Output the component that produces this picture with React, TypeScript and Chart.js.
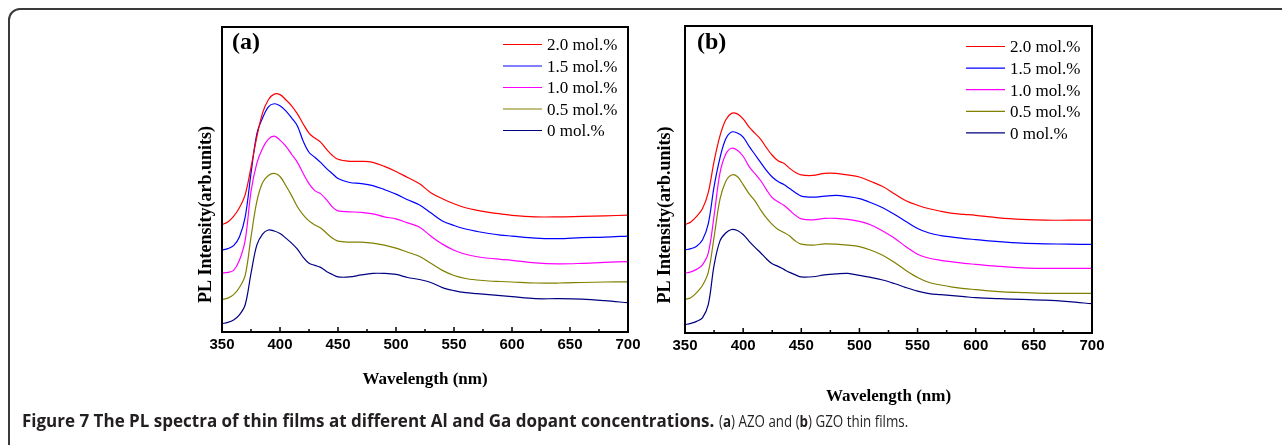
import { useEffect, useRef } from "react";
import { Chart, registerables } from "chart.js";

Chart.register(...registerables);

// Wavelength sample positions (nm)
const wavelengths = [
  350, 355, 360, 365, 370, 375, 380, 385, 390, 395, 400, 405, 410, 415, 420, 425, 430, 435, 440, 445, 450,
  460, 470, 480, 490, 500, 510, 520, 530, 540, 550, 560, 570, 580, 590, 600,
  620, 640, 660, 680, 700,
];

const xTickValues = [350, 400, 450, 500, 550, 600, 650, 700];
const minorTickValues = [375, 425, 475, 525, 575, 625, 675];

const seriesLabels = ["2.0 mol.%", "1.5 mol.%", "1.0 mol.%", "0.5 mol.%", "0 mol.%"];
const seriesColors = ["#ff0000", "#0000ff", "#ff00ff", "#808000", "#000080"];

// (a) AZO – offset PL intensities (arb. units)
const azo20 = [106.3, 109, 114.5, 123, 136, 163, 193, 217, 230, 235.5, 235, 230, 224, 216, 206, 197, 192, 188, 181, 175, 171,
  169, 169, 168, 164, 159, 153, 147, 138, 132, 127, 123, 120.5, 118.5, 117, 115.5, 114, 114, 114.5, 115, 115.7];
const azo15 = [81.3, 82.5, 85.5, 94, 114, 157, 196, 212, 223, 226, 224, 219, 212, 204, 189, 178, 173, 168, 162, 157, 152,
  148, 147, 145, 141, 136.5, 131, 126, 118, 110, 105.5, 102, 99.5, 97.5, 96, 95, 93, 92.5, 93.5, 94, 95];
const azo10 = [58.3, 59, 61, 71, 91, 139, 167, 182, 191, 194, 190, 184, 176, 168, 157, 147, 140, 137, 131, 124, 120,
  119, 118.5, 117, 114, 112, 108, 104, 95, 87, 81, 77, 74.5, 73, 72, 71, 68.5, 67.5, 68, 69, 69.7];
const azo05 = [32.3, 33.5, 37, 44, 56, 94, 129, 148, 155, 157, 154, 145, 135, 124, 116, 110, 106, 103, 98, 93, 90,
  89, 89, 88, 86, 83, 79, 75, 68, 61, 56, 53, 51.5, 50.5, 50, 49.5, 48.5, 48.5, 49, 49.5, 49.7];
const azo00 = [8.3, 9.5, 12, 17, 27, 58, 86, 97, 101, 100, 97.5, 93, 88, 82, 74, 68, 66, 64, 60, 57, 54.5,
  54.5, 56.5, 58, 58, 57, 54, 52, 49, 44, 41, 39, 38, 37, 36, 35, 33, 33, 32.5, 31, 29];

// (b) GZO – offset PL intensities (arb. units)
const gzo20 = [107.3, 110, 115.5, 123, 139, 170, 195, 211, 217.5, 217, 212, 204, 198, 192, 183.5, 176, 170.5, 168, 163, 159, 156.5,
  156, 158, 158, 156.5, 154.5, 150, 145, 138, 131, 126.5, 123, 120.5, 118.5, 117.5, 116.5, 114, 112.5, 111.7, 111.7, 111.7];
const gzo15 = [82.3, 83.5, 86, 92, 108, 145, 173, 192, 199, 198, 194, 185, 177, 169, 161, 154.5, 150, 147, 143, 139, 135.5,
  134.5, 135.5, 136.3, 135, 133, 129, 124, 117.5, 110.5, 103.5, 99, 96.5, 95, 93.5, 92.5, 90.5, 89, 88.3, 88, 87.7];
const gzo10 = [59.3, 60.5, 63, 67.5, 79, 116, 158, 177, 183, 181, 175, 165, 158, 151, 142, 134, 130, 126.5, 121.5, 116.5, 113,
  112, 113.5, 113.5, 112.5, 110.5, 107, 101, 94, 85.5, 78, 74, 72, 70.5, 69, 68, 66, 64.5, 64, 64, 64];
const gzo05 = [33.3, 35, 40, 47, 60, 95, 132, 150, 156.5, 155, 147, 138, 131, 122, 114, 107.5, 102.5, 99.5, 96, 91, 88,
  87, 88.3, 88, 87, 85.5, 82, 77, 70, 62, 55, 50, 47.5, 45.5, 44, 43, 41, 40, 39.3, 39.3, 39.3];
const gzo00 = [8.3, 9.5, 11.5, 15, 28, 67, 91, 99, 102.5, 101.5, 97.5, 91, 85, 79.5, 73.5, 68.5, 66, 63, 60, 57.5, 55.5,
  55.7, 57.5, 58.5, 59, 57, 55, 52.5, 49, 45, 41.5, 39, 38, 37, 36, 35, 34, 33.3, 32.5, 31, 29];

const xTitle = "Wavelength (nm)";
const yTitle = "PL Intensity(arb.units)";

const framePlugin = {
  id: "panelFrame",
  afterDatasetsDraw(chart: any) {
    const ctx = chart.ctx;
    const area = chart.chartArea;
    const xs = chart.scales.x;
    ctx.save();
    ctx.setLineDash([]);
    ctx.globalAlpha = 1;
    ctx.strokeStyle = "#000000";
    ctx.lineWidth = 2;
    ctx.beginPath();
    ctx.rect(area.left, area.top, area.right - area.left, area.bottom - area.top);
    ctx.stroke();
    ctx.lineWidth = 1.5;
    ctx.beginPath();
    for (const v of xTickValues) {
      const px = xs.getPixelForValue(v);
      ctx.moveTo(px, area.bottom);
      ctx.lineTo(px, area.bottom - 5);
    }
    for (const v of minorTickValues) {
      const px = xs.getPixelForValue(v);
      ctx.moveTo(px, area.bottom);
      ctx.lineTo(px, area.bottom - 3);
    }
    ctx.stroke();
    ctx.restore();
  },
};

const decorPlugin = {
  id: "panelDecor",
  afterDraw(chart: any, _args: any, opts: any) {
    const { ctx, chartArea } = chart;
    const { left, right, top, bottom } = chartArea;
    ctx.save();
    // panel label
    ctx.fillStyle = "#000";
    ctx.font = 'bold 24px "Liberation Serif"';
    ctx.textAlign = "left";
    ctx.textBaseline = "middle";
    ctx.fillText(opts.panel, left + opts.panelDx, top + opts.panelDy);
    // legend
    ctx.font = '17px "Liberation Serif"';
    chart.data.datasets.forEach((ds: any, i: number) => {
      const y = top + opts.legendDy + i * opts.legendGap;
      const x0 = right - opts.legendRight;
      ctx.strokeStyle = ds.borderColor;
      ctx.lineWidth = 1.2;
      ctx.beginPath();
      ctx.moveTo(x0, y - 1.5);
      ctx.lineTo(x0 + 39, y - 1.5);
      ctx.stroke();
      ctx.fillText(ds.label, x0 + 44, y);
    });
    // axis titles
    ctx.font = 'bold 17px "Liberation Serif"';
    ctx.textAlign = "center";
    ctx.fillText(xTitle, (left + right) / 2, bottom + opts.xTitleDy);
    ctx.font = 'bold 18px "Liberation Serif"';
    ctx.translate(left + opts.yTitleDx, bottom + opts.yTitleDy);
    ctx.rotate(-Math.PI / 2);
    ctx.fillText(yTitle, 0, 0);
    ctx.restore();
  },
};

function makeConfig(series: number[][], yMax: number, padding: any, decor: any) {
  return {
    type: "line",
    data: {
      datasets: series.map((vals, i) => ({
        label: seriesLabels[i],
        data: wavelengths.map((w, j) => ({ x: w, y: vals[j] })),
        borderColor: seriesColors[i],
        borderWidth: 1.2,
        pointRadius: 0,
        tension: 0.35,
        fill: false,
      })),
    },
    options: {
      animation: false,
      responsive: false,
      maintainAspectRatio: false,
      layout: { padding },
      plugins: {
        legend: { display: false },
        tooltip: { enabled: false },
        panelDecor: decor,
      },
      scales: {
        x: {
          type: "linear",
          min: 350,
          max: 700,
          afterBuildTicks: (scale: any) => {
            scale.ticks = xTickValues.map((v) => ({ value: v }));
          },
          ticks: {
            color: "#000",
            padding: 4,
            font: { family: '"Liberation Sans", Arial', size: 15, weight: "bold" },
          },
          grid: { display: false, drawTicks: false },
          border: { display: false },
        },
        y: {
          type: "linear",
          min: 0,
          max: yMax,
          display: false,
        },
      },
    },
    plugins: [framePlugin, decorPlugin],
  } as any;
}

function Panel(props: { series: number[][]; yMax: number; width: number; height: number; left: number; padding: any; decor: any }) {
  const ref = useRef<HTMLCanvasElement | null>(null);
  useEffect(() => {
    if (!ref.current) return;
    const chart = new Chart(ref.current, makeConfig(props.series, props.yMax, props.padding, props.decor));
    return () => chart.destroy();
  }, []);
  return (
    <canvas
      ref={ref}
      width={props.width}
      height={props.height}
      style={{ position: "absolute", left: props.left, top: 0, width: props.width, height: props.height }}
    />
  );
}

export default function App() {
  return (
    <div style={{ position: "absolute", left: 0, top: 0, width: 1282, height: 445, overflow: "hidden", background: "#fff" }}>
      <div
        style={{
          position: "absolute",
          left: 8,
          top: 8,
          width: 1320,
          height: 480,
          border: "2px solid #3a3a3a",
          borderRadius: 12,
          boxSizing: "border-box",
        }}
      />
      <Panel
        series={[azo20, azo15, azo10, azo05, azo00]}
        yMax={302}
        width={660}
        height={400}
        left={0}
        padding={{ left: 222, right: 32, top: 27, bottom: 42 }}
        decor={{ panel: "(a)", panelDx: 10, panelDy: 16, legendDy: 19, legendGap: 21.5, legendRight: 125, xTitleDy: 48, yTitleDx: -16, yTitleDy: -117.5 }}
      />
      <Panel
        series={[gzo20, gzo15, gzo10, gzo05, gzo00]}
        yMax={304}
        width={480}
        height={410}
        left={640}
        padding={{ left: 45, right: 28, top: 26, bottom: 51 }}
        decor={{ panel: "(b)", panelDx: 12, panelDy: 17, legendDy: 22, legendGap: 21.6, legendRight: 126, xTitleDy: 64, yTitleDx: -20, yTitleDy: -118 }}
      />
      <div
        style={{
          position: "absolute",
          left: 22,
          top: 410,
          fontFamily: '"Open Sans", sans-serif',
          fontSize: 17,
          lineHeight: "22px",
          color: "#231f20",
          whiteSpace: "nowrap",
        }}
      >
        <span style={{ fontWeight: 700 }}>Figure 7 The PL spectra of thin films at different Al and Ga dopant concentrations.</span>{" "}
        <span style={{ display: "inline-block", fontSize: 16.5, transform: "scaleX(0.81)", transformOrigin: "left center" }}>
          (<b>a</b>) AZO and (<b>b</b>) GZO thin films.
        </span>
      </div>
    </div>
  );
}
